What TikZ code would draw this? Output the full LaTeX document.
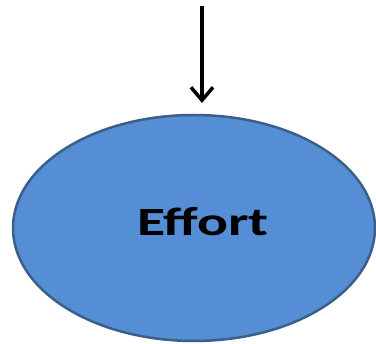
\documentclass[tikz,border=0pt]{standalone}
\usepackage{fontspec}
\setmainfont{Carlito}
\usetikzlibrary{shapes.geometric,arrows.meta}
\definecolor{fillblue}{RGB}{85,142,213}
\definecolor{edgeblue}{RGB}{58,95,139}
\tikzset{
  bubble/.style={ellipse, draw=edgeblue, fill=fillblue, line width=2.5pt, inner sep=0pt,
    minimum width=362pt, minimum height=226pt},
  bubblelabel/.style={font=\fontsize{40pt}{44pt}\selectfont\bfseries, xscale=1.44, anchor=base, inner sep=0pt},
  flow/.style={line width=3.5pt, -{Straight Barb[length=13pt,width=22pt]}}
}
\begin{document}
\begin{tikzpicture}[x=1pt,y=1pt]
\useasboundingbox (0,0) rectangle (376,-344);
\node[bubble] (e) at (194,-228) {};
\node[bubblelabel] (lbl) at (203,-236) {Effort};
\coordinate (s) at (202,-6);
\coordinate (t) at (202,-103);
\draw[flow] (s) -- (t);
\end{tikzpicture}
\end{document}
